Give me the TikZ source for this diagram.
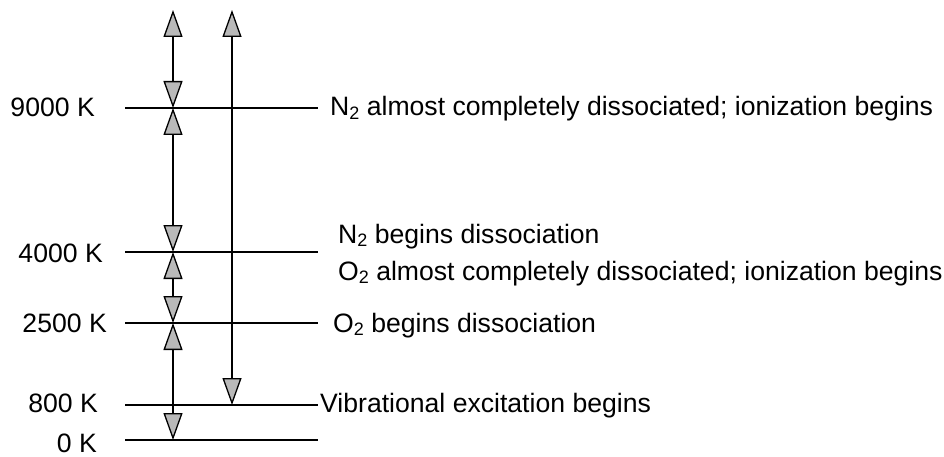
\documentclass[tikz,border=0pt]{standalone}
\usepackage{fontspec}
\setmainfont{Liberation Sans}
\usetikzlibrary{arrows.meta}
\newcommand\subtwo{\raisebox{-0.25ex}{\fontsize{18}{18}\selectfont 2}}
\begin{document}
\begin{tikzpicture}[x=1pt,y=-1pt,
  lvl/.style={line width=2.8pt},
  lab/.style={font=\fontsize{26.6}{30}\selectfont, inner sep=0pt},
  tipx/.tip={Triangle[length=27pt,width=19pt,fill=gray!55,line width=1.3pt]},
  dbl/.style={line width=1.6pt, tipx-tipx},
]
\useasboundingbox (0,0) rectangle (944,457);
% level lines
\foreach \n/\y in {9/108, 4/252, 25/323, 8/405, 0/440} {
  \coordinate (L\n) at (125,\y);
  \coordinate (R\n) at (318,\y);
  \coordinate (A\n) at (173,\y);
  \coordinate (B\n) at (232,\y);
  \draw[lvl] (L\n) -- (R\n);
}
\coordinate (T1) at (173,10);
\coordinate (T2) at (232,10);
% arrows
\draw[dbl] (T1) -- (A9);
\draw[dbl] (A9) -- (A4);
\draw[dbl] (A4) -- (A25);
\draw[dbl] (A25) -- (A0);
\draw[dbl] (T2) -- (B8);
% left labels
\node[lab, anchor=base east] (k9)  at (95,117)  {9000 K};
\node[lab, anchor=base east] (k4)  at (103,262) {4000 K};
\node[lab, anchor=base east] (k25) at (107,332) {2500 K};
\node[lab, anchor=base east] (k8)  at (98,412)  {800 K};
\node[lab, anchor=base east] (k0)  at (97,452)  {0 K};
% right labels
\node[lab, anchor=base west] (t9)  at (330,116) {N\subtwo{} almost completely dissociated; ionization begins};
\node[lab, anchor=base west] (t4a) at (338,243) {N\subtwo{} begins dissociation};
\node[lab, anchor=base west] (t4b) at (338,280) {O\subtwo{} almost completely dissociated; ionization begins};
\node[lab, anchor=base west] (t25) at (333,332) {O\subtwo{} begins dissociation};
\node[lab, anchor=base west] (t8)  at (320,412) {Vibrational excitation begins};
\end{tikzpicture}
\end{document}
